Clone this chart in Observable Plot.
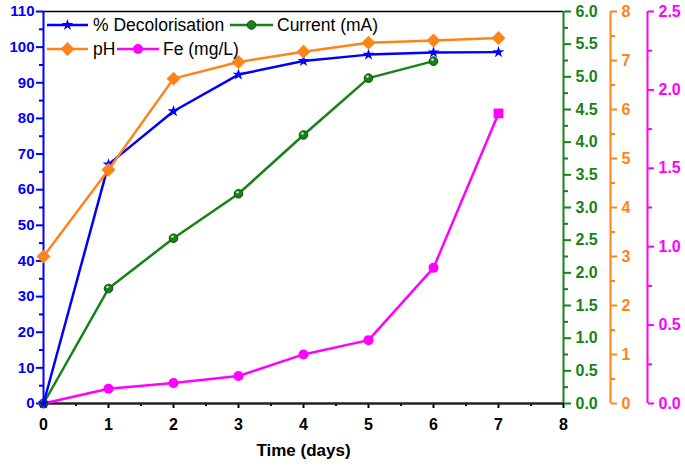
<!DOCTYPE html>
<html><head><meta charset="utf-8">
<script src="https://cdn.jsdelivr.net/npm/d3@7"></script>
<script src="https://cdn.jsdelivr.net/npm/@observablehq/plot@0.6"></script>
<style>
body{margin:0;background:#fff;font-family:"Liberation Sans",Arial,sans-serif}
#wrap{position:relative;width:685px;height:469px}
#legend{position:absolute;left:0;top:0;pointer-events:none}
</style></head><body><div id="wrap"></div>
<script>
// ---- data ----
const days = [0, 1, 2, 3, 4, 5, 6, 7];
const decolorisation = [0, 67.1, 82.0, 92.3, 96.1, 97.9, 98.5, 98.6];
const currentDays = [0, 1, 2, 3, 4, 5, 6];
const current = [0, 1.76, 2.53, 3.21, 4.11, 4.98, 5.24];
const pH = [3.0, 4.77, 6.63, 6.97, 7.18, 7.36, 7.41, 7.46];
const fe = [0, 0.094, 0.13, 0.175, 0.313, 0.404, 0.865, 1.85];
const xTicks = [0, 1, 2, 3, 4, 5, 6, 7, 8];
const leftTicks = [0, 10, 20, 30, 40, 50, 60, 70, 80, 90, 100, 110];
const currentTicks = [0, 0.5, 1, 1.5, 2, 2.5, 3, 3.5, 4, 4.5, 5, 5.5, 6];
const pHTicks = [0, 1, 2, 3, 4, 5, 6, 7, 8];
const feTicks = [0, 0.5, 1, 1.5, 2, 2.5];
const legendLabels = ["% Decolorisation", "Current (mA)", "pH", "Fe (mg/L)"];
const xLabel = "Time (days)";

// axis maxima
const leftMax = 110, currentMax = 6, pHMax = 8, feMax = 2.5;
const kC = leftMax / currentMax, kP = leftMax / pHMax, kF = leftMax / feMax;

const BLUE = "#0000ff", GREEN = "#168316", DGREEN = "#0a4f0a", ORANGE = "#ff8418", MAG = "#ff00ff";

const decoData = days.map((d, i) => ({day: d, v: decolorisation[i]}));
const curData = currentDays.map((d, i) => ({day: d, v: current[i] * kC}));
const phData = days.map((d, i) => ({day: d, v: pH[i] * kP}));
const feData = days.map((d, i) => ({day: d, v: fe[i] * kF}));

const half = a => a.slice(0, -1).map((v, i) => (v + a[i + 1]) / 2);
const fmt1 = v => v.toFixed(1);

const chart = Plot.plot({
  width: 685, height: 469,
  marginLeft: 43, marginRight: 122, marginTop: 11, marginBottom: 66,
  style: {fontFamily: "Liberation Sans, Arial, sans-serif", background: "#fff"},
  x: {domain: [0, 8], axis: null},
  y: {domain: [0, leftMax], axis: null},
  marks: [
    // frame lines
    Plot.ruleY([leftMax], {stroke: "#000", strokeWidth: 1.5}),
    // left (blue) axis
    Plot.axisY({ticks: leftTicks, tickSize: 7, tickPadding: 2, color: BLUE, strokeWidth: 2, fontWeight: "bold", fontSize: 15, label: null}),
    Plot.axisY({ticks: half(leftTicks), tickSize: 4, stroke: BLUE, fill: "none", strokeWidth: 2, label: null}),
    Plot.ruleX([0], {y1: 0, y2: leftMax, stroke: BLUE, strokeWidth: 2}),
    // x axis
    Plot.axisX({ticks: xTicks, tickSize: 5, tickPadding: 10, color: "#000", strokeWidth: 2, fontWeight: "bold", fontSize: 16, label: null}),
    Plot.axisX({ticks: half(xTicks), tickSize: 3, stroke: "#000", fill: "none", strokeWidth: 2, label: null}),
    Plot.ruleY([0], {x1: 0, x2: 8, stroke: "#222", strokeWidth: 2.5}),
    Plot.text([xLabel], {text: d => d, frameAnchor: "bottom", dy: 52, fontWeight: "bold", fontSize: 17, fill: "#000"}),
    // current (green) axis
    Plot.ruleX([8], {y1: 0, y2: leftMax, stroke: GREEN, strokeWidth: 2}),
    Plot.axisY({anchor: "right", ticks: currentTicks.map(v => v * kC), tickFormat: v => fmt1(v / kC), tickSize: 7, tickPadding: 5, color: GREEN, strokeWidth: 2, fontWeight: "bold", fontSize: 16, label: null}),
    Plot.axisY({anchor: "right", ticks: half(currentTicks).map(v => v * kC), tickSize: 4, stroke: GREEN, fill: "none", strokeWidth: 2, label: null}),
    // pH (orange) axis
    Plot.ruleX([8], {y1: 0, y2: leftMax, dx: 47, stroke: ORANGE, strokeWidth: 2}),
    Plot.axisY({anchor: "right", dx: 47, ticks: pHTicks.map(v => v * kP), tickFormat: v => d3.format("d")(Math.round(v / kP)), tickSize: 6, tickPadding: 5, color: ORANGE, strokeWidth: 2, fontWeight: "bold", fontSize: 16, label: null}),
    Plot.axisY({anchor: "right", dx: 47, ticks: half(pHTicks).map(v => v * kP), tickSize: 4, stroke: ORANGE, fill: "none", strokeWidth: 2, label: null}),
    // Fe (magenta) axis
    Plot.ruleX([8], {y1: 0, y2: leftMax, dx: 84, stroke: MAG, strokeWidth: 2}),
    Plot.axisY({anchor: "right", dx: 84, ticks: feTicks.map(v => v * kF), tickFormat: v => fmt1(v / kF), tickSize: 6, tickPadding: 5, color: MAG, strokeWidth: 2, fontWeight: "bold", fontSize: 16, label: null}),
    Plot.axisY({anchor: "right", dx: 84, ticks: half(feTicks).map(v => v * kF), tickSize: 4, stroke: MAG, fill: "none", strokeWidth: 2, label: null}),
    // series
    Plot.line(feData, {x: "day", y: "v", stroke: MAG, strokeWidth: 2.5}),
    Plot.dot(feData, {filter: (d, i) => i < feData.length - 1, x: "day", y: "v", r: 5, fill: MAG, stroke: "none"}),
    Plot.dot(feData, {filter: (d, i) => i === feData.length - 1, x: "day", y: "v", symbol: "square", r: 5.5, fill: MAG, stroke: "none"}),
    Plot.line(curData, {x: "day", y: "v", stroke: GREEN, strokeWidth: 2.5}),
    Plot.dot(curData, {x: "day", y: "v", r: 4.3, fill: GREEN, stroke: DGREEN, strokeWidth: 1}),
    Plot.dot(curData, {x: "day", y: "v", r: 1.3, dx: -1, dy: -1.5, fill: "#fff", fillOpacity: 0.75, stroke: "none"}),
    Plot.line(decoData, {x: "day", y: "v", stroke: BLUE, strokeWidth: 2.5}),
    Plot.dot(decoData, {x: "day", y: "v", symbol: "star", r: 3.7, fill: BLUE, stroke: "none"}),
    Plot.line(phData, {x: "day", y: "v", stroke: ORANGE, strokeWidth: 2.5}),
    Plot.dot(phData, {x: "day", y: "v", symbol: "diamond2", r: 6.3, fill: ORANGE, stroke: "none"})
  ]
});

const wrap = document.getElementById("wrap");
wrap.appendChild(chart);

// legend overlay
const legendItems = [
  {label: legendLabels[0], color: BLUE, sym: d3.symbolStar, size: 42, x0: 47, x1: 88, tx: 93, y: 25},
  {label: legendLabels[1], color: GREEN, sym: d3.symbolCircle, size: 58, x0: 230, x1: 273, tx: 277, y: 25, stroke: DGREEN},
  {label: legendLabels[2], color: ORANGE, sym: d3.symbolDiamond2, size: 125, x0: 47, x1: 88, tx: 93, y: 49},
  {label: legendLabels[3], color: MAG, sym: d3.symbolCircle, size: 78, x0: 117, x1: 159, tx: 163, y: 49}
];
const lg = d3.select(wrap).append("svg").attr("id", "legend").attr("width", 685).attr("height", 70);
for (const it of legendItems) {
  const g = lg.append("g");
  g.append("line").attr("x1", it.x0).attr("x2", it.x1).attr("y1", it.y).attr("y2", it.y)
    .attr("stroke", it.color).attr("stroke-width", 2.5);
  g.append("path").attr("d", d3.symbol(it.sym, it.size)())
    .attr("transform", `translate(${(it.x0 + it.x1) / 2},${it.y})`)
    .attr("fill", it.color).attr("stroke", it.stroke || "none");
  g.append("text").attr("x", it.tx).attr("y", it.y).attr("dy", "0.35em")
    .attr("font-family", "Liberation Sans, Arial, sans-serif").attr("font-size", 17.5)
    .attr("fill", "#000").text(it.label);
}
</script></body></html>
